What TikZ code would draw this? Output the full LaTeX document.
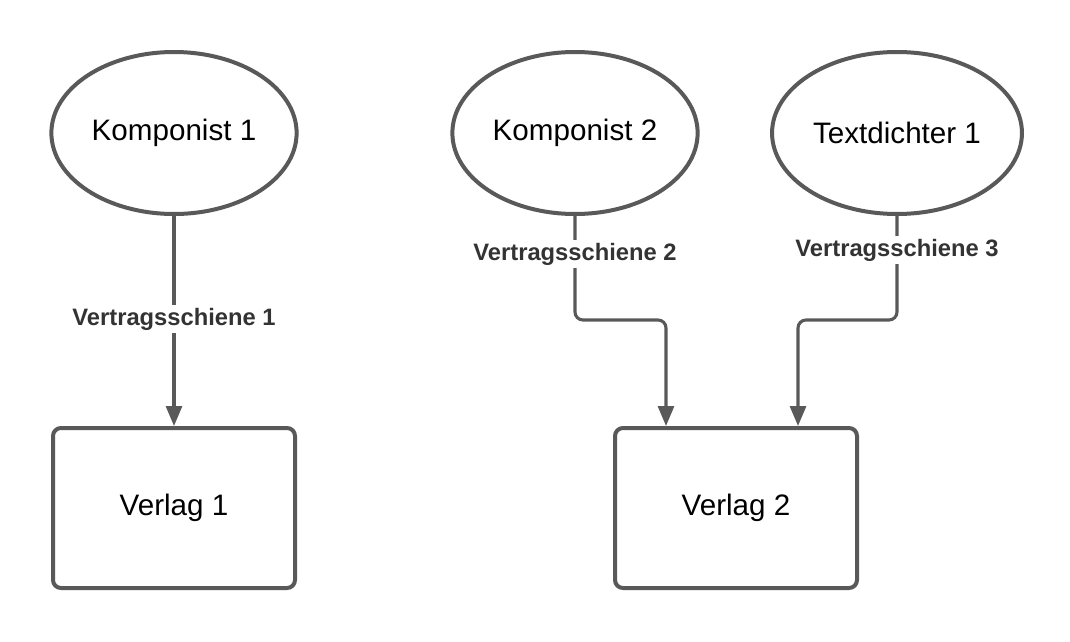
\documentclass[tikz,border=0pt]{standalone}
\usepackage{fontspec}
\setmainfont{Liberation Sans}
\usetikzlibrary{positioning, calc, arrows.meta, shapes}

\definecolor{linegray}{HTML}{595959}
\definecolor{labelgray}{HTML}{333333}

\begin{document}
\begin{tikzpicture}[
    x=0.75pt, y=-0.75pt,
    person/.style={ellipse, draw=linegray, line width=3pt, minimum width=180pt, minimum height=121.5pt, fill=white, font=\fontsize{22.2}{26}\selectfont},
    verlag/.style={rectangle, rounded corners=6pt, draw=linegray, line width=3pt, minimum width=181.5pt, minimum height=120pt, fill=white, font=\fontsize{22.2}{26}\selectfont},
    label/.style={fill=white, inner sep=2pt, text=labelgray, font=\fontsize{17.8}{21}\selectfont\bfseries},
    arrow/.style={-{Triangle[width=12pt, length=15pt]}, draw=linegray, line width=2.3pt, rounded corners=6pt}
]

    \useasboundingbox (0,0) rectangle (1070,642);

    % Composers and lyricist
    \node[person] (K1) at (174,133) {Komponist 1};
    \node[person] (K2) at (575,133) {Komponist 2};
    \node[person] (T1) at (897,133) {Textdichter 1};

    % Publishers
    \node[verlag] (V1) at (174,508) {Verlag 1};
    \node[verlag] (V2) at (736,508) {Verlag 2};

    % Bends
    \coordinate (B2) at (666,320);
    \coordinate (B3) at (798,320);

    % Contract lines
    \draw[arrow] (K1.south) -- (V1.north);
    \draw[arrow] (K2.south) |- (B2) -- (V2.north -| B2);
    \draw[arrow] (T1.south) |- (B3) -- (V2.north -| B3);

    % Labels
    \node[label] (L1) at (174,319) {Vertragsschiene 1};
    \node[label] (L2) at (575,254) {Vertragsschiene 2};
    \node[label] (L3) at (897,250) {Vertragsschiene 3};

\end{tikzpicture}
\end{document}
